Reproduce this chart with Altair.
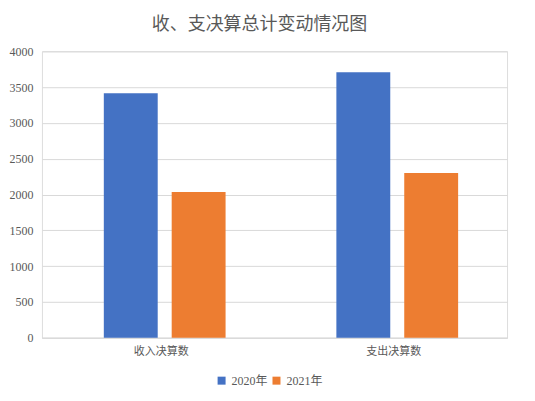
import altair as alt
import pandas as pd

categories = ["收入决算数", "支出决算数"]
years = ["2020年", "2021年"]
values_2020 = [3415, 3707]
values_2021 = [2035, 2300]

rows = []
for i, c in enumerate(categories):
    rows.append({"类别": c, "年份": years[0], "金额": values_2020[i]})
    rows.append({"类别": c, "年份": years[1], "金额": values_2021[i]})
df = pd.DataFrame(rows)

font = "'Liberation Serif', 'Noto Sans CJK SC'"
gray = "#595959"

chart = alt.Chart(df).mark_bar().encode(
    x=alt.X("类别:N", sort=categories, title=None,
            scale=alt.Scale(paddingInner=0, paddingOuter=0),
            axis=alt.Axis(labelAngle=0, ticks=False, domainColor="#d9d9d9",
                          labelColor=gray, labelFont="Noto Sans CJK SC", labelFontSize=11,
                          labelPadding=8, labelOffset=3)),
    xOffset=alt.XOffset("年份:N", sort=years,
                        scale=alt.Scale(paddingInner=0.206, paddingOuter=0, range=[62, 184])),
    y=alt.Y("金额:Q", title=None,
            scale=alt.Scale(domain=[0, 4000]),
            axis=alt.Axis(values=[0, 500, 1000, 1500, 2000, 2500, 3000, 3500, 4000],
                          format="d", domain=False, ticks=False, gridColor="#d9d9d9",
                          labelColor=gray, labelFont=font, labelFontSize=12,
                          labelPadding=9)),
    color=alt.Color("年份:N", sort=years,
                    scale=alt.Scale(domain=years, range=["#4472C4", "#ED7D31"]),
                    legend=alt.Legend(title=None, orient="none", direction="horizontal",
                                      legendX=174, legendY=324, symbolType="square",
                                      symbolSize=64, symbolStrokeWidth=0,
                                      labelColor=gray, labelFont=font, labelFontSize=12,
                                      columnPadding=2)),
).properties(
    width=466,
    height=287,
    title=alt.TitleParams("收、支决算总计变动情况图", font="Noto Sans CJK SC",
                          fontSize=18, fontWeight="normal", color=gray,
                          anchor="middle", dx=-15, offset=11),
    autosize=alt.AutoSizeParams(type="none"),
    padding={"left": 34, "top": 43, "right": 20, "bottom": 55},
).configure_view(stroke=None).configure(background="white")

chart.save("out.html", embed_options={"renderer": "svg", "actions": False})
